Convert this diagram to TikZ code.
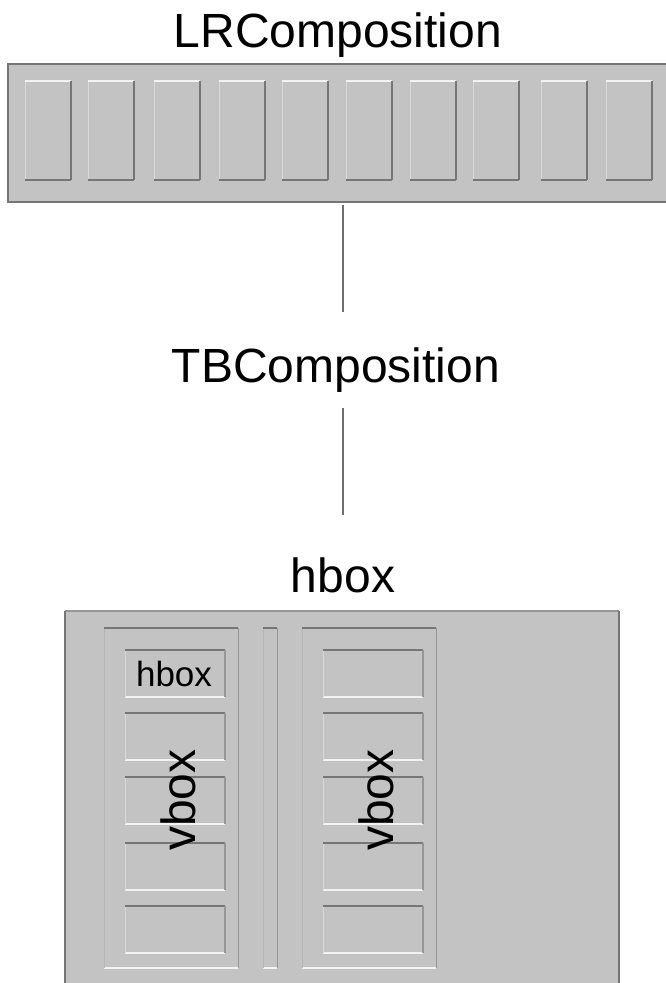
\documentclass[tikz,border=0pt]{standalone}
\usepackage{fontspec}
\setmainfont{Liberation Sans}
\definecolor{bg}{RGB}{195,195,195}
\definecolor{edark}{RGB}{118,118,118}
\definecolor{emid}{RGB}{150,150,150}
\definecolor{elight}{RGB}{215,215,215}
\definecolor{ewhite}{RGB}{242,242,242}
\definecolor{efaint}{RGB}{182,182,182}
\definecolor{conncol}{RGB}{110,110,110}
\newcommand{\raisedbox}[4]{%
  \fill[bg] (#1,#2) rectangle (#3,#4);
  \draw[elight,line width=1pt] (#1,#4) -- (#1,#2);
  \draw[ewhite,line width=1.5pt] (#1,#2) -- (#3,#2);
  \draw[edark,line width=1.6pt] (#3,#2) -- (#3,#4);
  \draw[edark,line width=1.6pt] (#1,#4) -- (#3,#4);
}
\newcommand{\sunkenbox}[4]{%
  \draw[ewhite,line width=1.5pt] (#1,#4) -- (#3,#4);
  \draw[elight,line width=1pt] (#1,#2) -- (#1,#4);
  \draw[edark,line width=1.2pt] (#1,#2) -- (#3,#2);
  \draw[emid,line width=1.6pt] (#3,#2) -- (#3,#4);
}
\newcommand{\panelbox}[4]{%
  \draw[ewhite,line width=1.5pt] (#1,#4) -- (#3,#4);
  \draw[efaint,line width=1pt] (#1,#2) -- (#1,#4);
  \draw[emid,line width=1pt] (#3,#2) -- (#3,#4);
  \draw[edark,line width=1.5pt] (#1,#2) -- (#3,#2);
}
\tikzset{
  lbl/.style={font=\fontsize{48}{56}\selectfont, inner sep=0pt, anchor=base},
  smalllbl/.style={font=\fontsize{35}{40}\selectfont, inner sep=0pt, anchor=base},
  conn/.style={draw=conncol, line width=1.5pt}
}
\begin{document}
\begin{tikzpicture}[x=1pt,y=-1pt]
\useasboundingbox (0,0) rectangle (666,983);
% top LR composition
\node[lbl] (lr) at (338,47) {LRComposition};
\fill[bg] (8,64) rectangle (666,202);
\draw[edark,line width=2pt] (667,64) -- (8,64) -- (8,202) -- (667,202);
\foreach \x in {25,88,154,219,282,346,410,473,541,606} {
  \raisedbox{\x}{81}{\x+46}{180}
}
% connectors and TB label
\coordinate (c1) at (343,205);
\coordinate (c2) at (343,312);
\draw[conn] (c1) -- (c2);
\node[lbl] (tb) at (336,382) {TBComposition};
\coordinate (c3) at (343,408);
\coordinate (c4) at (343,515);
\draw[conn] (c3) -- (c4);
\node[lbl] (hbl) at (343,592) {hbox};
% bottom hbox
\fill[bg] (65,611) rectangle (619,990);
\draw[emid,line width=2pt] (65,611) -- (619,611);
\draw[edark,line width=2pt] (65,990) -- (65,611);
\draw[edark,line width=2pt] (619,611) -- (619,990);
\panelbox{104}{628}{238}{968}
\panelbox{263}{628}{277}{968}
\panelbox{302}{628}{436}{968}
\foreach \y in {650,713,777,843,906} {
  \sunkenbox{125}{\y}{225}{\y+47}
  \sunkenbox{323}{\y}{423}{\y+47}
}
\node[smalllbl] (hbs) at (174,686) {hbox};
\node[lbl,rotate=90] (vb1) at (195,800) {vbox};
\node[lbl,rotate=90] (vb2) at (393,800) {vbox};
\end{tikzpicture}
\end{document}
